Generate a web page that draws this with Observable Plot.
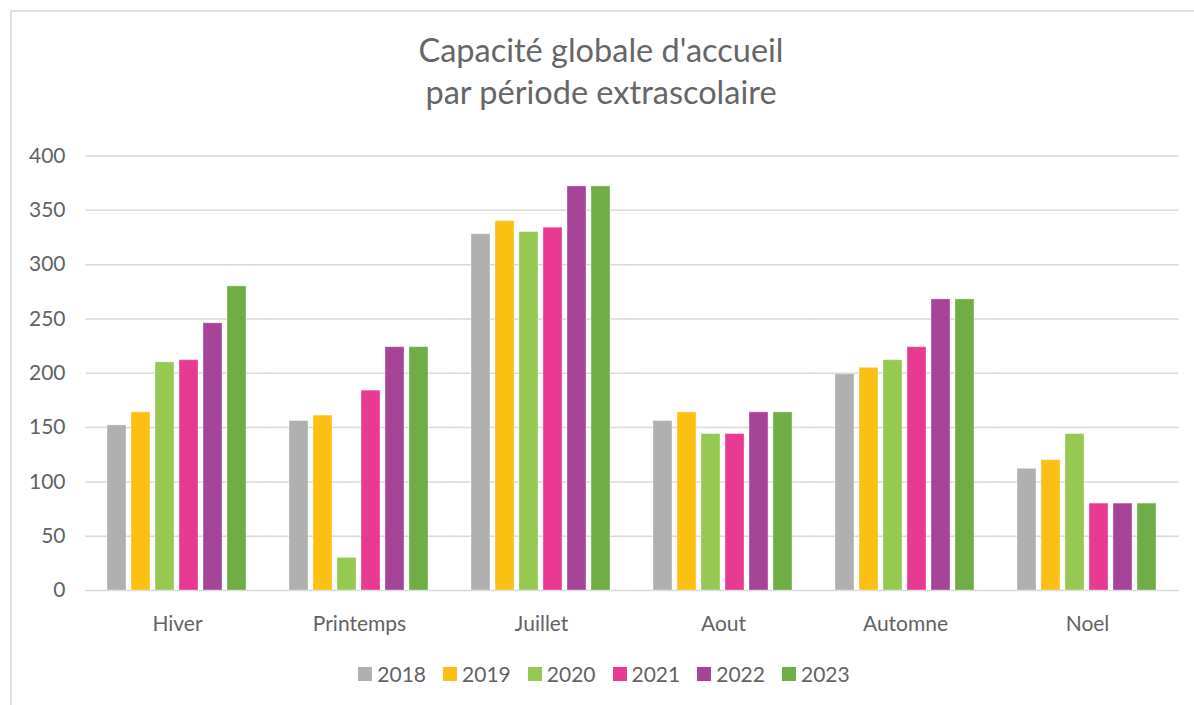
<!DOCTYPE html>
<html>
<head>
<meta charset="utf-8">
<script src="https://cdn.jsdelivr.net/npm/d3@7"></script>
<script src="https://cdn.jsdelivr.net/npm/@observablehq/plot@0.6"></script>
<style>
  html, body { margin: 0; padding: 0; background: #fff; }
  #wrap { position: relative; width: 1194px; height: 705px; overflow: hidden; font-family: Lato, "Open Sans", sans-serif; color: #636363; }
  #border { position: absolute; left: 10px; top: 10px; width: 1300px; height: 800px; border-left: 2px solid #e0e0e0; border-top: 2px solid #e0e0e0; }
  #title { position: absolute; left: 4px; top: 29px; width: 1194px; text-align: center; font-size: 32.5px; line-height: 42px; color: #666666; }
  #chart { position: absolute; left: 0; top: 130px; }
  #legend { position: absolute; left: 7px; top: 662px; width: 1194px; display: flex; justify-content: center; font-size: 21px; line-height: 24px; }
  .item { display: flex; align-items: center; margin: 0 8.5px; }
  .sw { width: 14px; height: 14px; margin-right: 5px; }
</style>
</head>
<body>
<div id="wrap">
  <div id="border"></div>
  <div id="title">Capacité globale d'accueil<br>par période extrascolaire</div>
  <div id="chart"></div>
  <div id="legend"></div>
</div>
<script>
const periods = ["Hiver", "Printemps", "Juillet", "Aout", "Automne", "Noel"];
const years = ["2018", "2019", "2020", "2021", "2022", "2023"];
const v2018 = [152, 156, 328, 156, 199, 112];
const v2019 = [164, 161, 340, 164, 205, 120];
const v2020 = [210, 30, 330, 144, 212, 144];
const v2021 = [212, 184, 334, 144, 224, 80];
const v2022 = [246, 224, 372, 164, 268, 80];
const v2023 = [280, 224, 372, 164, 268, 80];
const colors = ["#b0b0b0", "#fcc014", "#95c952", "#e83a93", "#a64598", "#70ad47"];
const yTicks = [0, 50, 100, 150, 200, 250, 300, 350, 400];

const series = [v2018, v2019, v2020, v2021, v2022, v2023];
const data = [];
periods.forEach((p, i) => {
  years.forEach((y, j) => {
    data.push({period: p, year: y, value: series[j][i]});
  });
});

const W = 1194, ML = 86, MR = 16;
const pIn = 0.177, pOut = 0.0885;
const step = (W - ML - MR) / (periods.length - pIn + 2 * pOut);
const gap = step * pIn / 2 + 0.5;

const chart = Plot.plot({
  width: W,
  height: 520,
  marginTop: 25.5,
  marginBottom: 60,
  marginLeft: ML,
  marginRight: MR,
  style: {fontFamily: "Lato, 'Open Sans', sans-serif", fontSize: "21px", color: "#636363", background: "transparent"},
  fx: {domain: periods, paddingInner: pIn, paddingOuter: pOut, label: null},
  x: {domain: years, padding: 0.2, axis: null},
  y: {domain: [0, 400], label: null},
  color: {domain: years, range: colors},
  marks: [
    Plot.gridY(yTicks, {stroke: "#d9d9d9", strokeOpacity: 1, strokeWidth: 1.5, insetLeft: -gap, insetRight: -gap}),
    Plot.barY(data, {fx: "period", x: "year", y: "value", fill: "year", stroke: "#ffffff", strokeOpacity: 0.35, strokeWidth: 1}),
    Plot.axisY(yTicks, {tickSize: 0, tickPadding: 37, fontSize: 21, label: null}),
    Plot.axisFx({anchor: "bottom", tickSize: 0, tickPadding: 26, fontSize: 21, label: null})
  ]
});
document.getElementById("chart").appendChild(chart);

const legend = document.getElementById("legend");
years.forEach((y, j) => {
  const item = document.createElement("div");
  item.className = "item";
  const sw = document.createElement("div");
  sw.className = "sw";
  sw.style.background = colors[j];
  const t = document.createElement("span");
  t.textContent = y;
  item.appendChild(sw);
  item.appendChild(t);
  legend.appendChild(item);
});
</script>
</body>
</html>
